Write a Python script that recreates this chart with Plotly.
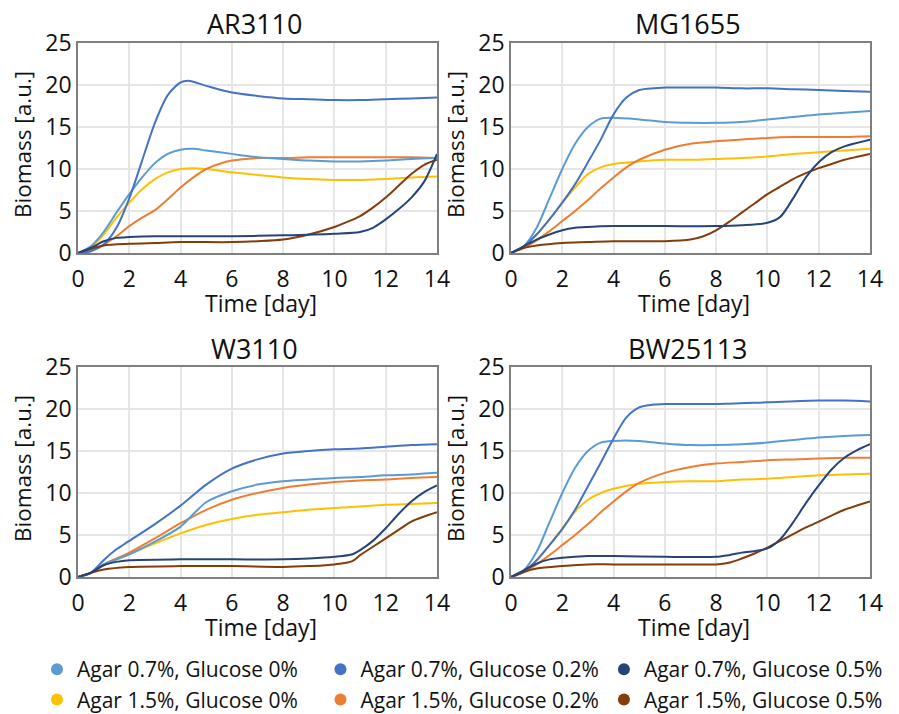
import plotly.graph_objects as go

strains = ["AR3110", "MG1655", "W3110", "BW25113"]
series_names = ["Agar 0.7%, Glucose 0%", "Agar 0.7%, Glucose 0.2%", "Agar 0.7%, Glucose 0.5%",
                "Agar 1.5%, Glucose 0%", "Agar 1.5%, Glucose 0.2%", "Agar 1.5%, Glucose 0.5%"]
colors = ["#5B9BD5", "#4472C4", "#264478", "#FFC000", "#ED7D31", "#843C0C"]

# ---- AR3110 ----
ar_a07_g0_x = [0, 0.5, 1, 1.5, 2, 2.5, 3, 3.5, 4, 4.5, 5, 6, 7, 8, 9, 10, 11, 12, 13, 14]
ar_a07_g0_y = [0, 0.8, 2.5, 4.8, 7, 9, 10.7, 11.8, 12.3, 12.4, 12.2, 11.8, 11.4, 11.2, 11.0, 10.9, 10.9, 11.0, 11.2, 11.3]
ar_a07_g02_x = [0, 0.5, 1, 1.5, 2, 2.5, 3, 3.5, 4, 4.3, 5, 6, 7, 8, 9, 10, 11, 12, 13, 14]
ar_a07_g02_y = [0, 0.2, 1, 3, 6.5, 11, 15.5, 18.8, 20.3, 20.5, 19.9, 19.1, 18.7, 18.4, 18.3, 18.2, 18.2, 18.3, 18.4, 18.5]
ar_a07_g05_x = [0, 0.5, 1, 1.5, 2, 3, 4, 6, 8, 10, 11, 11.5, 12, 12.5, 13, 13.5, 14]
ar_a07_g05_y = [0, 0.6, 1.4, 1.8, 1.9, 2.0, 2.0, 2.0, 2.1, 2.3, 2.5, 3.0, 4.0, 5.2, 6.6, 8.5, 11.8]
ar_a15_g0_x = [0, 0.5, 1, 1.5, 2, 2.5, 3, 3.5, 4, 4.5, 5, 6, 7, 8, 9, 10, 11, 12, 13, 14]
ar_a15_g0_y = [0, 0.7, 2.2, 4.2, 6, 7.6, 8.8, 9.6, 10.0, 10.1, 10.0, 9.6, 9.3, 9.0, 8.8, 8.7, 8.7, 8.8, 9.0, 9.1]
ar_a15_g02_x = [0, 0.5, 1, 1.5, 2, 2.5, 3, 3.5, 4, 4.5, 5, 5.5, 6, 7, 8, 9, 10, 11, 12, 13, 14]
ar_a15_g02_y = [0, 0.4, 1, 2, 3.2, 4.2, 5.1, 6.4, 7.8, 9, 10, 10.6, 11, 11.3, 11.3, 11.4, 11.4, 11.4, 11.4, 11.4, 11.3]
ar_a15_g05_x = [0, 0.5, 1, 2, 3, 4, 6, 7, 8, 9, 10, 10.5, 11, 11.5, 12, 12.5, 13, 13.5, 14]
ar_a15_g05_y = [0, 0.5, 0.9, 1.1, 1.2, 1.3, 1.3, 1.4, 1.6, 2.2, 3.1, 3.7, 4.4, 5.4, 6.6, 8.0, 9.4, 10.5, 11.1]

# ---- MG1655 ----
mg_a07_g0_x = [0, 0.5, 1, 1.5, 2, 2.5, 3, 3.5, 4, 5, 6, 7, 8, 9, 10, 11, 12, 13, 14]
mg_a07_g0_y = [0, 0.8, 3, 6.5, 10, 13, 15, 16, 16.1, 15.9, 15.6, 15.5, 15.5, 15.6, 15.9, 16.2, 16.5, 16.7, 16.9]
mg_a07_g02_x = [0, 0.5, 1, 1.5, 2, 2.5, 3, 3.5, 4, 4.5, 5, 6, 7, 8, 9, 10, 11, 12, 13, 14]
mg_a07_g02_y = [0, 0.8, 2.2, 4, 6, 8.2, 10.8, 13.5, 16.5, 18.5, 19.4, 19.7, 19.7, 19.7, 19.6, 19.6, 19.5, 19.4, 19.3, 19.2]
mg_a07_g05_x = [0, 0.5, 1, 1.5, 2, 2.5, 3, 4, 6, 8, 9, 10, 10.5, 11, 11.5, 12, 12.5, 13, 14]
mg_a07_g05_y = [0, 0.8, 1.6, 2.2, 2.7, 3.0, 3.1, 3.2, 3.2, 3.2, 3.3, 3.6, 4.3, 6.5, 9.0, 10.8, 12.0, 12.7, 13.5]
mg_a15_g0_x = [0, 0.5, 1, 1.5, 2, 2.5, 3, 3.5, 4, 5, 6, 7, 8, 9, 10, 11, 12, 13, 14]
mg_a15_g0_y = [0, 0.8, 2.2, 4, 6, 7.8, 9.4, 10.2, 10.6, 10.9, 11.1, 11.1, 11.2, 11.3, 11.5, 11.8, 12.0, 12.2, 12.4]
mg_a15_g02_x = [0, 0.5, 1, 1.5, 2, 2.5, 3, 3.5, 4, 4.5, 5, 6, 7, 8, 9, 10, 11, 12, 13, 14]
mg_a15_g02_y = [0, 0.6, 1.5, 2.6, 3.8, 5, 6.3, 7.7, 9, 10.2, 11.1, 12.3, 13, 13.3, 13.5, 13.7, 13.8, 13.8, 13.8, 13.9]
mg_a15_g05_x = [0, 0.5, 1, 2, 3, 4, 5, 6, 7, 7.5, 8, 8.5, 9, 9.5, 10, 10.5, 11, 11.5, 12, 12.5, 13, 14]
mg_a15_g05_y = [0, 0.6, 0.9, 1.2, 1.3, 1.4, 1.4, 1.4, 1.6, 2.0, 2.7, 3.7, 4.8, 5.9, 7.0, 7.9, 8.8, 9.5, 10.1, 10.6, 11.1, 11.8]

# ---- W3110 ----
w_a07_g0_x = [0, 0.5, 1, 2, 3, 4, 4.5, 5, 6, 7, 8, 9, 10, 11, 12, 13, 14]
w_a07_g0_y = [0, 0.5, 1.5, 2.7, 4.2, 6, 7.5, 8.9, 10.2, 11, 11.4, 11.6, 11.8, 11.9, 12.1, 12.2, 12.4]
w_a07_g02_x = [0, 0.5, 1, 1.5, 2, 3, 4, 5, 6, 7, 8, 9, 10, 11, 12, 13, 14]
w_a07_g02_y = [0, 0.5, 2, 3.3, 4.3, 6.3, 8.5, 11, 12.9, 14, 14.7, 15, 15.2, 15.3, 15.5, 15.7, 15.8]
w_a07_g05_x = [0, 0.5, 1, 1.5, 2, 4, 6, 8, 9, 10, 10.7, 11, 11.5, 12, 12.5, 13, 13.5, 14]
w_a07_g05_y = [0, 0.5, 1.4, 1.8, 2.0, 2.1, 2.1, 2.1, 2.2, 2.4, 2.7, 3.2, 4.3, 5.8, 7.5, 9.0, 10.1, 10.9]
w_a15_g0_x = [0, 0.5, 1, 2, 3, 4, 5, 6, 7, 8, 9, 10, 11, 12, 13, 14]
w_a15_g0_y = [0, 0.5, 1.4, 2.7, 4, 5.2, 6.2, 6.9, 7.4, 7.7, 8, 8.2, 8.4, 8.6, 8.7, 8.8]
w_a15_g02_x = [0, 0.5, 1, 2, 3, 4, 5, 6, 7, 8, 9, 10, 11, 12, 13, 14]
w_a15_g02_y = [0, 0.5, 1.5, 2.9, 4.6, 6.4, 8, 9.2, 10, 10.6, 11, 11.3, 11.5, 11.6, 11.8, 11.9]
w_a15_g05_x = [0, 0.5, 1, 2, 4, 6, 8, 9, 10, 10.7, 11, 11.5, 12, 12.5, 13, 13.5, 14]
w_a15_g05_y = [0, 0.5, 0.9, 1.2, 1.3, 1.3, 1.2, 1.3, 1.5, 1.9, 2.6, 3.6, 4.6, 5.6, 6.6, 7.2, 7.7]

# ---- BW25113 ----
bw_a07_g0_x = [0, 0.5, 1, 1.5, 2, 2.5, 3, 3.5, 4, 5, 6, 7, 8, 9, 10, 11, 12, 13, 14]
bw_a07_g0_y = [0, 0.8, 3, 6.5, 10, 13, 15, 16, 16.2, 16.2, 15.9, 15.7, 15.7, 15.8, 16, 16.3, 16.6, 16.8, 16.9]
bw_a07_g02_x = [0, 0.5, 1, 1.5, 2, 2.5, 3, 3.5, 4, 4.5, 5, 5.5, 6, 8, 10, 12, 13, 14]
bw_a07_g02_y = [0, 0.6, 2, 3.8, 5.7, 8, 10.8, 13.6, 16.5, 19, 20.2, 20.5, 20.6, 20.6, 20.8, 21, 21, 20.9]
bw_a07_g05_x = [0, 0.5, 1, 1.5, 2, 3, 4, 6, 8, 8.5, 9, 10, 10.5, 11, 11.5, 12, 12.5, 13, 13.5, 14]
bw_a07_g05_y = [0, 0.8, 1.6, 2.1, 2.3, 2.5, 2.5, 2.4, 2.4, 2.6, 2.9, 3.4, 4.5, 6.5, 8.8, 10.9, 12.8, 14.2, 15.1, 15.8]
bw_a15_g0_x = [0, 0.5, 1, 1.5, 2, 2.5, 3, 3.5, 4, 5, 6, 7, 8, 9, 10, 11, 12, 13, 14]
bw_a15_g0_y = [0, 0.7, 2, 3.8, 5.8, 7.8, 9.2, 10, 10.5, 11.1, 11.3, 11.4, 11.4, 11.6, 11.7, 11.9, 12.1, 12.2, 12.3]
bw_a15_g02_x = [0, 0.5, 1, 1.5, 2, 2.5, 3, 3.5, 4, 4.5, 5, 6, 7, 8, 9, 10, 11, 12, 13, 14]
bw_a15_g02_y = [0, 0.6, 1.5, 2.6, 3.8, 5, 6.3, 7.7, 9, 10.2, 11.2, 12.4, 13.1, 13.5, 13.7, 13.9, 14.0, 14.1, 14.2, 14.2]
bw_a15_g05_x = [0, 0.5, 1, 2, 3, 4, 6, 7, 8, 8.5, 9, 9.5, 10, 10.5, 11, 11.5, 12, 12.5, 13, 14]
bw_a15_g05_y = [0, 0.6, 1, 1.3, 1.5, 1.5, 1.5, 1.5, 1.5, 1.7, 2.2, 2.8, 3.5, 4.3, 5.1, 5.9, 6.6, 7.3, 8.0, 9.0]

data = {
    "AR3110": [(ar_a07_g0_x, ar_a07_g0_y), (ar_a07_g02_x, ar_a07_g02_y), (ar_a07_g05_x, ar_a07_g05_y),
               (ar_a15_g0_x, ar_a15_g0_y), (ar_a15_g02_x, ar_a15_g02_y), (ar_a15_g05_x, ar_a15_g05_y)],
    "MG1655": [(mg_a07_g0_x, mg_a07_g0_y), (mg_a07_g02_x, mg_a07_g02_y), (mg_a07_g05_x, mg_a07_g05_y),
               (mg_a15_g0_x, mg_a15_g0_y), (mg_a15_g02_x, mg_a15_g02_y), (mg_a15_g05_x, mg_a15_g05_y)],
    "W3110": [(w_a07_g0_x, w_a07_g0_y), (w_a07_g02_x, w_a07_g02_y), (w_a07_g05_x, w_a07_g05_y),
              (w_a15_g0_x, w_a15_g0_y), (w_a15_g02_x, w_a15_g02_y), (w_a15_g05_x, w_a15_g05_y)],
    "BW25113": [(bw_a07_g0_x, bw_a07_g0_y), (bw_a07_g02_x, bw_a07_g02_y), (bw_a07_g05_x, bw_a07_g05_y),
                (bw_a15_g0_x, bw_a15_g0_y), (bw_a15_g02_x, bw_a15_g02_y), (bw_a15_g05_x, bw_a15_g05_y)],
}

# draw order: light series first, darker later
draw_order = [3, 4, 0, 1, 5, 2]

# the page body adds an 8px offset; the figure is sized to fill the rest of the window
OFF = 8
W, H = 899 - OFF, 714 - OFF
# plot area boxes in window pixels (left, right, top, bottom)
boxes = [(78, 437, 43, 253), (511, 870, 43, 253), (78, 437, 367, 577), (511, 870, 367, 577)]


def px(xv):
    return (xv - OFF) / W


def py(yv):
    return 1 - (yv - OFF) / H


FONT = "Open Sans"
fig = go.Figure()
layout_axes = {}
annotations = []
for i, strain in enumerate(strains):
    l, r, t, b = boxes[i]
    xa = "x" if i == 0 else f"x{i+1}"
    ya = "y" if i == 0 else f"y{i+1}"
    for k in draw_order:
        xs, ys = data[strain][k]
        fig.add_trace(go.Scatter(x=xs, y=ys, mode="lines", line=dict(color=colors[k], width=2, shape="spline", smoothing=0.8),
                                 xaxis=xa, yaxis=ya, showlegend=False, hoverinfo="skip"))
    xkey = "xaxis" if i == 0 else f"xaxis{i+1}"
    ykey = "yaxis" if i == 0 else f"yaxis{i+1}"
    common = dict(showline=True, mirror=True, linecolor="#7F7F7F", linewidth=1.5,
                  showgrid=True, gridcolor="#E6E6E6", gridwidth=1.5, zeroline=False, automargin=False,
                  ticks="", tickfont=dict(family=FONT, size=23, color="#111111"))
    layout_axes[xkey] = dict(common, domain=[px(l), px(r)], range=[0, 14], dtick=2, tick0=0,
                             anchor=ya, ticklabelstandoff=5)
    layout_axes[ykey] = dict(common, domain=[py(b), py(t)], range=[0, 25], dtick=5, tick0=0,
                             anchor=xa, ticklabelstandoff=0)
    cx = (l + r) / 2
    annotations.append(dict(text=strain, x=px(cx - 3), y=py(t - 19), xref="paper", yref="paper",
                            showarrow=False, font=dict(family=FONT, size=27, color="#111111"),
                            xanchor="center", yanchor="middle"))
    annotations.append(dict(text="Time [day]", x=px(cx + 3), y=py(b + 50), xref="paper", yref="paper",
                            showarrow=False, font=dict(family=FONT, size=23, color="#111111"),
                            xanchor="center", yanchor="middle"))
    annotations.append(dict(text="Biomass [a.u.]", x=px(l - 56), y=py((t + b) / 2 - 3), xref="paper",
                            yref="paper", showarrow=False, textangle=-90,
                            font=dict(family=FONT, size=22.5, color="#111111"),
                            xanchor="center", yanchor="middle"))

# legend entries
for k in range(6):
    fig.add_trace(go.Scatter(x=[None], y=[None], mode="markers", name=series_names[k],
                             marker=dict(color=colors[k], size=13, symbol="circle"), showlegend=True))

fig.update_layout(
    width=W, height=H, margin=dict(l=0, r=0, t=0, b=0, autoexpand=False),
    paper_bgcolor="white", plot_bgcolor="white",
    annotations=annotations,
    legend=dict(orientation="h", x=px(37), y=py(649), xanchor="left", yanchor="top",
                tracegroupgap=0,
                font=dict(family=FONT, size=21, color="#111111"), itemsizing="constant",
                bgcolor="rgba(0,0,0,0)"),
    **layout_axes,
)

fig.write_html("out.html")
